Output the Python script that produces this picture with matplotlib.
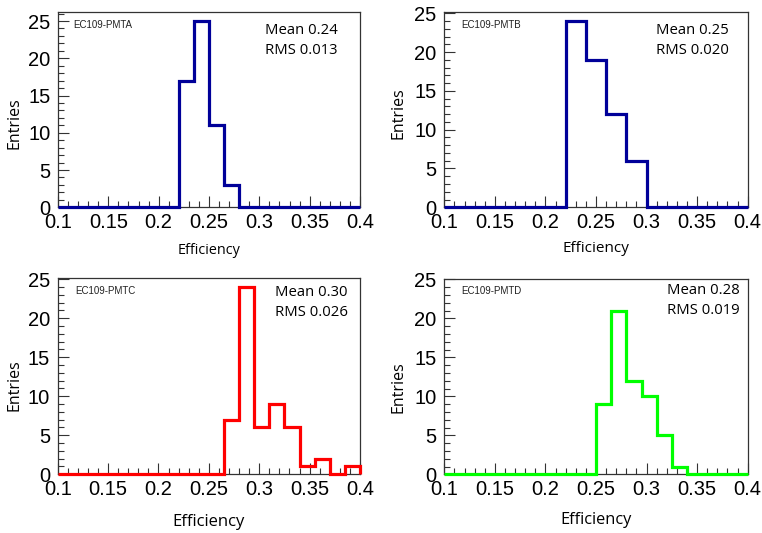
import numpy as np
import matplotlib
matplotlib.use('Agg')
import matplotlib.pyplot as plt
from matplotlib.ticker import MultipleLocator, FuncFormatter

plt.rcParams['font.family'] = ['Liberation Sans', 'DejaVu Sans']

# bin edges of the four efficiency histograms
edges_a = np.linspace(0.1, 0.4, 21)   # width 0.015
edges_b = np.linspace(0.1, 0.4, 16)   # width 0.02
edges_c = np.linspace(0.1, 0.4, 21)
edges_d = np.linspace(0.1, 0.4, 21)

# entries per bin
counts_a = [0, 0, 0, 0, 0, 0, 0, 0, 17, 25, 11, 3, 0, 0, 0, 0, 0, 0, 0, 0]
counts_b = [0, 0, 0, 0, 0, 0, 24, 19, 12, 6, 0, 0, 0, 0, 0]
counts_c = [0, 0, 0, 0, 0, 0, 0, 0, 0, 0, 0, 7, 24, 6, 9, 6, 1, 2, 0, 1]
counts_d = [0, 0, 0, 0, 0, 0, 0, 0, 0, 0, 9, 21, 12, 10, 5, 1, 0, 0, 0, 0]

names = ['EC109-PMTA', 'EC109-PMTB', 'EC109-PMTC', 'EC109-PMTD']
means = ['0.24', '0.25', '0.30', '0.28']
rms = ['0.013', '0.020', '0.026', '0.019']
colors = ['#000099', '#000099', '#ff0000', '#00ff00']
ymax = [26.25, 25.2, 25.2, 25.0]

W, H = 762, 533
fig = plt.figure(figsize=(W / 100, H / 100), dpi=100)

# axes boxes in pixels: left, right, top, bottom
boxes = [(58, 360, 11.7, 207.3),
         (444.3, 747.7, 11.7, 207.3),
         (57.7, 360, 277.7, 474.3),
         (444.3, 747.7, 279.3, 474.3)]
# label positions in pixels
eff_y = [251, 248, 522, 520]
eff_size = [10.4, 11, 12, 11.8]
ent_x = [15, 399, 15, 399]
ent_y = [123, 113, 385, 387]
stat_xy = [(265, 31), (656, 31), (275, 293), (667, 290)]
name_xy = [(73, 25), (461, 25), (75, 291), (461, 291)]

all_edges = [edges_a, edges_b, edges_c, edges_d]
all_counts = [counts_a, counts_b, counts_c, counts_d]

tickfmt = FuncFormatter(lambda v, p: '%g' % round(v, 3))

for i in range(4):
    l, r, t, b = boxes[i]
    ax = fig.add_axes([l / W, 1 - b / H, (r - l) / W, (b - t) / H])
    ax.stairs(all_counts[i], all_edges[i], baseline=0, fill=False,
              color=colors[i], linewidth=2.3, clip_on=False, zorder=3)
    ax.set_xlim(0.1, 0.4)
    ax.set_ylim(0, ymax[i])

    ax.xaxis.set_major_locator(MultipleLocator(0.05))
    ax.xaxis.set_minor_locator(MultipleLocator(0.01))
    ax.xaxis.set_major_formatter(tickfmt)
    ax.yaxis.set_major_locator(MultipleLocator(5))
    ax.yaxis.set_minor_locator(MultipleLocator(1))
    ax.tick_params(which='both', direction='in', top=False, right=False,
                   width=0.8, color='#333333')
    ax.tick_params(which='major', length=8, labelsize=14.5)
    ax.tick_params(which='minor', length=4)
    ax.tick_params(axis='x', which='major', pad=4)
    ax.tick_params(axis='y', which='major', pad=5.5)
    for sp in ax.spines.values():
        sp.set_linewidth(0.9)
        sp.set_color('#333333')

    fig.text((l + r) / 2 / W, 1 - eff_y[i] / H, 'Efficiency',
             ha='center', va='center', fontsize=eff_size[i], family='Open Sans')
    fig.text(ent_x[i] / W, 1 - ent_y[i] / H, 'Entries', rotation=90,
             ha='center', va='center', fontsize=11.5, family='Open Sans')
    sx, sy = stat_xy[i]
    fig.text(sx / W, 1 - sy / H, 'Mean ' + means[i], ha='left', va='center',
             fontsize=10.7, family='Open Sans')
    fig.text(sx / W, 1 - (sy + 20) / H, 'RMS ' + rms[i], ha='left', va='center',
             fontsize=10.7, family='Open Sans')
    nx, ny = name_xy[i]
    fig.text(nx / W, 1 - ny / H, names[i], ha='left', va='center',
             fontsize=7, color='#222222')

fig.savefig('out.png', dpi=100)
